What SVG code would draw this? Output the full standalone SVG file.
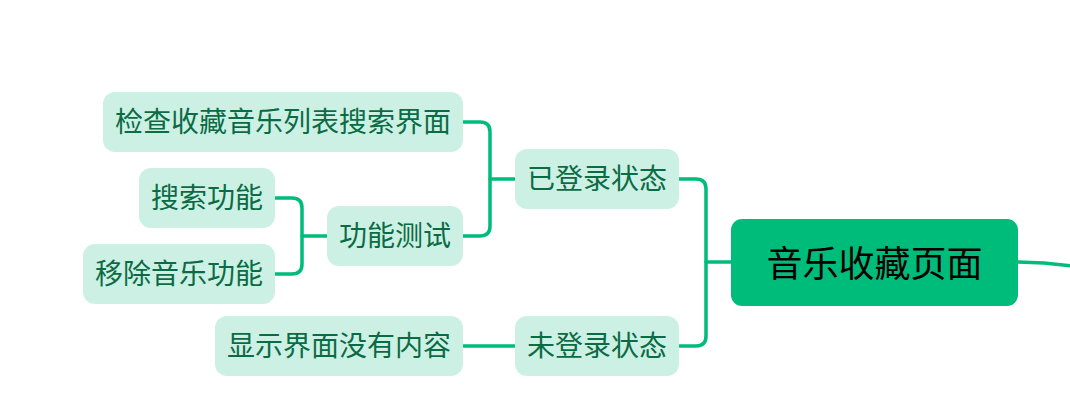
<svg xmlns="http://www.w3.org/2000/svg" width="1070" height="412" viewBox="0 0 1070 412">
<style>
.sub rect{fill:#CCF1E4;}
.sub text{fill:#0B6B45;font-family:"Noto Sans CJK SC","Noto Sans",sans-serif;font-size:28px;text-anchor:middle;dominant-baseline:central;}
.root rect{fill:#00BC7B;}
.root text{fill:#000;font-family:"Noto Sans CJK SC","Noto Sans",sans-serif;font-size:36px;text-anchor:middle;dominant-baseline:central;}
.conn path{fill:none;stroke:#00BC7B;stroke-width:3.5;stroke-linecap:round;}
</style>
<g class="conn" id="connectors">
<path d="M1018,262 Q1045,262 1072,266"/>
<path d="M731,262 H706"/>
<path d="M679,179 H696 Q706,179 706,189 V336 Q706,346 696,346 H679"/>
<path d="M515,179 H490"/>
<path d="M463,122 H480 Q490,122 490,132 V226 Q490,236 480,236 H463"/>
<path d="M327,236 H302"/>
<path d="M275,198 H292 Q302,198 302,208 V264 Q302,274 292,274 H275"/>
<path d="M463,346 H515"/>
</g>
<g class="root" id="root"><rect x="731" y="219" width="287" height="87" rx="11"/><text x="874.5" y="261">音乐收藏页面</text></g>
<g class="sub" id="logged-in"><rect x="515" y="149" width="164" height="60" rx="12"/><text x="597" y="177">已登录状态</text></g>
<g class="sub" id="logged-out"><rect x="515" y="316" width="164" height="60" rx="12"/><text x="597" y="344">未登录状态</text></g>
<g class="sub" id="check-list"><rect x="103" y="92" width="360" height="60" rx="12"/><text x="283" y="120">检查收藏音乐列表搜索界面</text></g>
<g class="sub" id="func-test"><rect x="327" y="206" width="136" height="60" rx="12"/><text x="395" y="234">功能测试</text></g>
<g class="sub" id="search"><rect x="139" y="168" width="136" height="60" rx="12"/><text x="207" y="196">搜索功能</text></g>
<g class="sub" id="remove"><rect x="83" y="244" width="192" height="60" rx="12"/><text x="179" y="272">移除音乐功能</text></g>
<g class="sub" id="empty"><rect x="215" y="316" width="248" height="60" rx="12"/><text x="339" y="344">显示界面没有内容</text></g>
</svg>
